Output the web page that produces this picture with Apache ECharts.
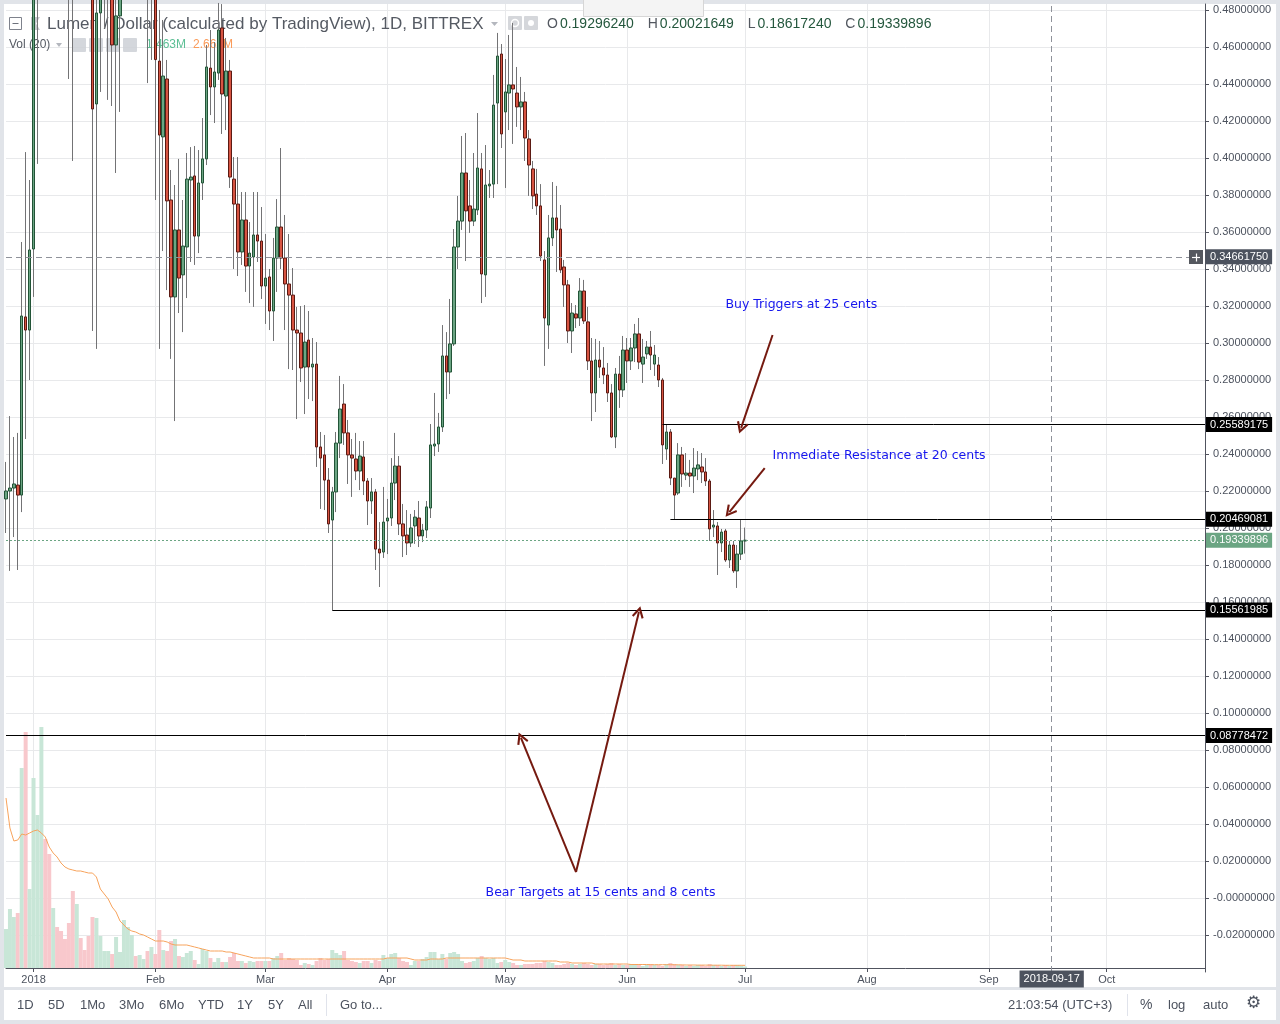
<!DOCTYPE html>
<html>
<head>
<meta charset="utf-8">
<title>Lumen / Dollar</title>
<script src="https://cdn.jsdelivr.net/npm/echarts@6/dist/echarts.min.js"></script>
<style>
html,body{margin:0;padding:0;width:1280px;height:1024px;background:#e1e4e9;overflow:hidden;}
.pane{position:absolute;background:#fff;}
#chart{position:absolute;left:0;top:0;width:1280px;height:1024px;}
</style>
</head>
<body>
<div class="pane" style="left:4px;top:4px;width:1272px;height:983px"></div>
<div class="pane" style="left:4px;top:990px;width:1272px;height:30px"></div>
<div id="chart"></div>
<script>
// ---------------- DATA ----------------
// daily candles from 2017-12-25, rows: [open, high, low, close]
const ohlc = [
[0.2157,0.2357,0.1973,0.2200],[0.2200,0.2605,0.1768,0.2216],[0.2216,0.2492,0.1951,0.2238],[0.2232,0.2514,0.1773,0.2178],
[0.2178,0.3546,0.2086,0.3146],[0.3141,0.4032,0.2481,0.3070],[0.3070,0.3881,0.2800,0.3503],[0.3508,0.5600,0.3249,0.5200],
[0.5200,0.6600,0.3968,0.6300],[0.6300,0.8500,0.6000,0.8000],[0.8000,0.9200,0.7000,0.7500],[0.7500,0.8000,0.6200,0.6800],
[0.6800,0.8000,0.6600,0.7600],[0.7600,0.7800,0.6500,0.7000],[0.7000,0.7200,0.5500,0.6200],[0.6200,0.6800,0.5600,0.6000],
[0.6000,0.6200,0.4427,0.5600],[0.5600,0.6000,0.3984,0.5200],[0.5200,0.6200,0.5000,0.5800],[0.5800,0.6400,0.5400,0.5700],
[0.5700,0.6000,0.5200,0.5500],[0.5500,0.6000,0.5000,0.5300],[0.5300,0.5500,0.3065,0.4265],[0.4292,0.4900,0.2968,0.4784],
[0.4784,0.5600,0.4357,0.5300],[0.5300,0.5800,0.4700,0.5600],[0.5600,0.6200,0.4314,0.6000],[0.6000,0.6100,0.4281,0.4611],
[0.4611,0.5000,0.3919,0.4768],[0.4768,0.5500,0.4249,0.5200],[0.5200,0.5800,0.5000,0.5600],[0.5600,0.6200,0.5300,0.6000],
[0.6000,0.6400,0.5400,0.6200],[0.6200,0.6300,0.5600,0.5900],[0.5900,0.6600,0.5700,0.6300],[0.6300,0.6600,0.5800,0.6400],
[0.6400,0.6500,0.4405,0.5200],[0.5200,0.5800,0.4530,0.5400],[0.5400,0.5600,0.3773,0.4532],[0.4524,0.4800,0.2968,0.4124],
[0.4114,0.4746,0.3497,0.4443],[0.4427,0.4530,0.3286,0.3768],[0.3773,0.3935,0.2914,0.3249],[0.3249,0.3854,0.2578,0.3611],
[0.3611,0.3995,0.3162,0.3351],[0.3368,0.3773,0.3059,0.3524],[0.3519,0.4027,0.3243,0.3886],[0.3881,0.4059,0.3438,0.3897],
[0.3903,0.4065,0.3422,0.3578],[0.3578,0.4043,0.3486,0.3865],[0.3865,0.4216,0.3773,0.3995],[0.3995,0.4611,0.3962,0.4492],
[0.4486,0.4692,0.4232,0.4384],[0.4384,0.4627,0.4189,0.4465],[0.4459,0.4838,0.4422,0.4692],[0.4703,0.4832,0.4130,0.4346],
[0.4335,0.4649,0.4151,0.4470],[0.4470,0.4530,0.3838,0.3897],[0.3886,0.4005,0.3400,0.3751],[0.3751,0.4005,0.3362,0.3492],
[0.3492,0.3816,0.3422,0.3665],[0.3665,0.3816,0.3276,0.3416],[0.3416,0.3654,0.3216,0.3486],[0.3465,0.3816,0.3195,0.3584],
[0.3584,0.3816,0.3438,0.3551],[0.3551,0.3735,0.3238,0.3308],[0.3308,0.3589,0.3103,0.3351],[0.3357,0.3400,0.3070,0.3173],
[0.3173,0.3568,0.3011,0.3459],[0.3459,0.3778,0.3276,0.3627],[0.3627,0.4054,0.3400,0.3459],[0.3459,0.3692,0.3070,0.3319],
[0.3319,0.3589,0.2859,0.3259],[0.3259,0.3405,0.2854,0.3070],[0.3070,0.3195,0.2589,0.3054],[0.3054,0.3200,0.2789,0.2865],
[0.2870,0.3205,0.2616,0.3005],[0.3016,0.3173,0.2697,0.2870],[0.2870,0.3027,0.2686,0.2886],[0.2886,0.3005,0.2330,0.2438],
[0.2438,0.2519,0.2103,0.2378],[0.2395,0.2503,0.2097,0.2259],[0.2259,0.2324,0.1973,0.2022],[0.2043,0.2222,0.15561985,0.2195],
[0.2195,0.2519,0.2086,0.2459],[0.2459,0.2822,0.2378,0.2643],[0.2670,0.2778,0.2449,0.2514],[0.2514,0.2584,0.2238,0.2395],
[0.2395,0.2481,0.2168,0.2378],[0.2373,0.2514,0.2259,0.2308],[0.2308,0.2470,0.2205,0.2389],[0.2384,0.2470,0.2178,0.2254],
[0.2254,0.2270,0.2016,0.2146],[0.2146,0.2270,0.2076,0.2195],[0.2195,0.2211,0.1773,0.1886],[0.1886,0.2032,0.1681,0.1865],
[0.1870,0.2222,0.1838,0.2032],[0.2038,0.2157,0.1859,0.2054],[0.2054,0.2378,0.2011,0.2243],[0.2243,0.2514,0.2151,0.2335],
[0.2335,0.2389,0.1962,0.2022],[0.2022,0.2130,0.1843,0.1957],[0.1962,0.2097,0.1854,0.1919],[0.1919,0.2076,0.1897,0.2000],
[0.2011,0.2097,0.1914,0.2059],[0.2054,0.2146,0.1897,0.1957],[0.1957,0.2022,0.1924,0.1989],[0.1989,0.2146,0.1946,0.2114],
[0.2108,0.2562,0.2054,0.2449],[0.2443,0.2730,0.2389,0.2454],[0.2454,0.2622,0.2411,0.2546],[0.2546,0.3097,0.2519,0.2930],
[0.2930,0.3059,0.2697,0.2843],[0.2843,0.3238,0.2724,0.2995],[0.2995,0.3616,0.2984,0.3519],[0.3519,0.3795,0.3400,0.3659],
[0.3659,0.4119,0.3611,0.3919],[0.3919,0.4135,0.3443,0.3714],[0.3741,0.3881,0.3595,0.3659],[0.3659,0.4027,0.3632,0.3724],
[0.3719,0.4243,0.3692,0.3946],[0.3941,0.4027,0.3216,0.3373],[0.3368,0.4070,0.3249,0.3854],[0.3849,0.3935,0.3784,0.3859],
[0.3859,0.4449,0.3784,0.4286],[0.4297,0.4676,0.3859,0.4551],[0.4562,0.4616,0.4054,0.4130],[0.4249,0.4535,0.3838,0.4357],
[0.4351,0.4665,0.4151,0.4395],[0.4395,0.4730,0.4076,0.4373],[0.4351,0.4492,0.4168,0.4276],[0.4276,0.4438,0.4151,0.4303],
[0.4303,0.4357,0.3984,0.4108],[0.4103,0.4151,0.3795,0.3962],[0.3941,0.3984,0.3724,0.3795],[0.3805,0.3941,0.3692,0.3741],
[0.3741,0.3859,0.3443,0.3470],[0.3449,0.3497,0.2876,0.3135],[0.3097,0.3692,0.2968,0.3568],[0.3568,0.3870,0.3524,0.3676],
[0.3676,0.3849,0.3384,0.3611],[0.3616,0.3746,0.3378,0.3395],[0.3411,0.3449,0.3195,0.3314],[0.3314,0.3341,0.3000,0.3065],
[0.3065,0.3216,0.2946,0.3162],[0.3157,0.3205,0.3081,0.3135],[0.3135,0.3351,0.3092,0.3281],[0.3281,0.3341,0.3103,0.3119],
[0.3114,0.3195,0.2854,0.2903],[0.2903,0.3027,0.2578,0.2730],[0.2730,0.3022,0.2627,0.2908],[0.2908,0.3011,0.2811,0.2870],
[0.2865,0.2978,0.2778,0.2827],[0.2827,0.2892,0.2681,0.2730],[0.2730,0.2778,0.2486,0.2492],[0.2492,0.2865,0.2432,0.2832],
[0.2832,0.2930,0.2649,0.2746],[0.2746,0.3038,0.2708,0.2962],[0.2962,0.3027,0.2784,0.2903],[0.2903,0.3027,0.2854,0.2973],
[0.2973,0.3103,0.2897,0.3049],[0.3049,0.3135,0.2859,0.2897],[0.2886,0.3022,0.2784,0.2924],[0.2941,0.3011,0.2914,0.2978],
[0.2978,0.3065,0.2854,0.2935],[0.2886,0.2989,0.2822,0.2935],[0.2881,0.2924,0.2762,0.2800],[0.2800,0.2811,0.2346,0.2449],
[0.2427,0.25589175,0.2368,0.2519],[0.2519,0.2535,0.2232,0.2270],[0.2270,0.2270,0.20469081,0.2178],[0.2189,0.2459,0.2178,0.2395],
[0.2395,0.2438,0.2222,0.2292],[0.2286,0.2405,0.2259,0.2297],[0.2297,0.2368,0.2222,0.2281],[0.2281,0.2432,0.2189,0.2324],
[0.2319,0.2416,0.2259,0.2341],[0.2330,0.2405,0.2243,0.2303],[0.2303,0.2378,0.2227,0.2254],[0.2254,0.2265,0.1930,0.1995],
[0.2005,0.2097,0.1951,0.2016],[0.2011,0.2032,0.1746,0.1919],[0.1919,0.1995,0.1870,0.1978],[0.1984,0.1995,0.1816,0.1827],
[0.1827,0.1930,0.1784,0.1908],[0.1908,0.1930,0.1757,0.1768],[0.1768,0.1908,0.1676,0.1859],[0.1859,0.2043,0.1827,0.1930],
[0.19296240,0.20021649,0.18617240,0.19339896]
];
// volume in millions
const volume = [
39,59,51,55,200,236,79,190,153,241,129,114,60,41,37,29,45,77,64,30,
18,32,51,50,32,17,17,14,31,16,48,41,33,12,13,9,17,21,14,38,
18,17,27,29,12,11,15,17,8,4,19,17,10,6,10,6,6,11,15,7,
7,5,7,6,7,
7,7,7,10,12,15,8,10,9,8,3,5,4,3,7,10,8,9,18,15,
13,17,8,7,6,5,7,7,5,8,7,13,10,14,15,10,7,6,3,7,
7,9,11,16,16,9,14,9,15,16,14,7,5,6,7,10,12,10,9,10,
5,6,8,6,5,3,3,4,4,4,5,5,7,6,5,3,
3,4,5,4,3,4,5,4,3,4,4,3,4,5,3,4,3,3,4,3,
3,2,3,4,3,3,2,4,5,4,3,3,2,3,2,3,3,2,4,3,
3,2,3,2,3,3,2,1.463
];
// 20-day volume moving average (millions)
const volumeMA = [
170,140,127,128,134,133,135,137,138,135,131,121,115,111,105,101,99,98,97,
97,96,95,95,91,79,74,69,61,56,47,43,39,37,36,34,33,31,29,27,
27,27,26,24,23,23,23,23,22,21,20,19,18,17,17,17,17,16,16,15,
14,13,12,11,10,10,
10,10,10,9,9,9,
9,9,9,9,9,9,9,9,9,9, 9,9,9,9,9,9,9,9,9,9,
9,9,9,9,9,9,10,10,10,10, 10,10,9,8,8,8,8,9,9,9,
9,10,10,10,10,10,10,10,10,10, 10,10,10,10,10,10,10,9,8,8,
8,7,7,7,7,7,7,7,7,7, 6,6,6,5,5,5,5,5,5,4,
4,4,4,4,4,4,4,4,3.5,3.5, 3.5,3.5,3.5,3.3,3.3,3.3,3.3,3.3,3.3,3.2,
3.2,3.1,3.0,3.0,3.0,2.9,2.9,2.9,2.8,2.8, 2.8,2.8,2.7,2.7,2.7,2.7,2.7,2.665
];
// horizontal levels drawn on the chart, and the day index where each begins
const levelValues = [0.25589175, 0.20469081, 0.15561985, 0.08778472];
const levelStartDay = [167, 169, 83, 0];
const crosshairPrice = 0.34661750;
const crosshairDate = '2018-09-17';
// annotations: text, day index, price
const noteTexts = ['Buy Triggers at 25 cents', 'Immediate Resistance at 20 cents', 'Bear Targets at 15 cents and 8 cents'];
const noteDays = [182.9, 195.1, 121.85];
const notePrices = [0.3205, 0.2389, 0.0027];
// arrows: [fromDay, fromPrice, toDay, toPrice]
const arrows = [
  [194.9, 0.3043, 186.7, 0.2541],
  [193.1, 0.2324, 184.4, 0.2086],
  [144.7, 0.01405, 131.3, 0.0865],
  [144.7, 0.01405, 160.8, 0.1546]
];
// x-axis tick labels by month
const monthNames = {'01':'2018','02':'Feb','03':'Mar','04':'Apr','05':'May','06':'Jun','07':'Jul','08':'Aug','09':'Sep','10':'Oct','11':'Nov','12':'Dec'};
const dayCount = 306;
const categories = [];
for (let i = 0; i < dayCount; i++) {
  categories.push(new Date(Date.UTC(2017, 11, 25 + i)).toISOString().slice(0, 10));
}

// ---------------- STYLE ----------------
const FONT = '"Liberation Sans", Arial, sans-serif';
const UP = '#6ba583', DN = '#d75442', UPB = '#225437', DNB = '#5b1a13', WICK = '#737375';
const VOL_UP = '#c8e6d7', VOL_DN = '#f8c8cc';
const AXIS = '#50535e', TXT = '#4c525e', GRIDC = '#e8e9eb';
const ARROW = '#751a10';
const CHEVRON = 'path://M6,0 L12,10.5 L10.2,11.6 L6,4.2 L1.8,11.6 L0,10.5 Z';

const isMonthStart = (i, v) => String(v).slice(8) === '01';
const candleData = ohlc.map(r => [r[0], r[3], r[2], r[1]]);
const bodyData = ohlc.map(r => [r[0], r[3], Math.min(r[0], r[3]), Math.max(r[0], r[3])]);
const volData = volume.map((v, i) => ({value: v, itemStyle: {color: ohlc[i][3] >= ohlc[i][0] ? VOL_UP : VOL_DN}}));
const last = ohlc[ohlc.length - 1];

function boxLabel(bg, text) {
  return {show: true, position: 'end', distance: 1, formatter: text, backgroundColor: bg, color: '#fff',
    fontSize: 11, fontFamily: FONT, padding: [2, 4, 1, 4], lineHeight: 12};
}
function hLine(startDay, v, lineStyle, label) {
  return [
    {coord: [startDay, v], lineStyle: lineStyle, label: label},
    {coord: [dayCount - 1, v]}
  ];
}

const markLines = [];
levelValues.forEach((v, i) => {
  markLines.push(hLine(levelStartDay[i], v, {color: '#000', width: 1, type: 'solid'}, boxLabel('#000', v.toFixed(8))));
});
markLines.push(hLine(0, crosshairPrice, {color: '#8f929a', width: 1, type: [6, 4]}, boxLabel('#4c525e', crosshairPrice.toFixed(8))));
markLines.push(hLine(0, last[3], {color: UP, width: 1, type: [2, 2]}, boxLabel(UP, last[3].toFixed(8))));
markLines.push({xAxis: crosshairDate, lineStyle: {color: '#8f929a', width: 1, type: [6, 4]}, label: {show: false}});
arrows.forEach(a => {
  markLines.push([
    {coord: [a[0], a[1]], symbol: 'none', lineStyle: {color: ARROW, width: 2, type: 'solid'}, label: {show: false}},
    {coord: [a[2], a[3]], symbol: CHEVRON, symbolSize: [12, 12]}
  ]);
});

const option = {
  animation: false,
  backgroundColor: 'transparent',
  grid: [
    {left: 6, right: 75, top: 4, bottom: 52},
    {left: 6, right: 75, top: 668, bottom: 56}
  ],
  xAxis: [
    {type: 'category', gridIndex: 0, data: categories, boundaryGap: false,
      axisLine: {show: false}, axisTick: {show: false}, axisLabel: {show: false},
      splitLine: {show: true, interval: isMonthStart, lineStyle: {color: GRIDC, width: 1}}},
    {type: 'category', gridIndex: 1, data: categories, boundaryGap: false,
      axisLine: {show: true, lineStyle: {color: AXIS, width: 1}},
      axisTick: {show: true, interval: isMonthStart, length: 4, lineStyle: {color: AXIS}},
      axisLabel: {show: true, interval: isMonthStart, formatter: v => monthNames[v.slice(5, 7)],
        color: TXT, fontSize: 11, fontFamily: FONT, margin: 6},
      splitLine: {show: false}}
  ],
  yAxis: [
    {type: 'value', gridIndex: 0, position: 'right', min: -0.04, max: 0.48324, interval: 0.02,
      axisLine: {show: true, lineStyle: {color: AXIS, width: 1}},
      axisTick: {show: true, length: 4, lineStyle: {color: AXIS}},
      axisLabel: {color: TXT, fontSize: 11, fontFamily: FONT, margin: 8, showMinLabel: false, showMaxLabel: false,
        formatter: v => (Math.abs(v) < 1e-10 ? '-0.00000000' : v.toFixed(8))},
      splitLine: {show: true, showMinLine: false, showMaxLine: false, lineStyle: {color: GRIDC, width: 1}}},
    {type: 'value', gridIndex: 1, min: 0, max: 300, show: false}
  ],
  series: [
    {name: 'Volume', type: 'bar', xAxisIndex: 1, yAxisIndex: 1, data: volData, barWidth: 4, silent: true, z: 1},
    {name: 'Volume MA', type: 'line', xAxisIndex: 1, yAxisIndex: 1, data: volumeMA, symbol: 'none', showSymbol: false,
      lineStyle: {color: '#f7a35c', width: 1}, silent: true, z: 1},
    {name: 'Wicks', type: 'candlestick', xAxisIndex: 0, yAxisIndex: 0, data: candleData, barWidth: 0.4, barMinWidth: 0.4,
      itemStyle: {color: WICK, color0: WICK, borderColor: WICK, borderColor0: WICK, borderWidth: 1},
      clip: true, silent: true, z: 2},
    {name: 'Lumen / Dollar', type: 'candlestick', xAxisIndex: 0, yAxisIndex: 0, data: bodyData, barWidth: 3,
      itemStyle: {color: UP, color0: DN, borderColor: UPB, borderColor0: DNB, borderWidth: 1},
      clip: true, silent: true, z: 3,
      markLine: {silent: true, animation: false, symbol: ['none', 'none'], label: {show: false},
        emphasis: {disabled: true}, data: markLines},
      markPoint: {silent: true, animation: false, symbol: 'circle', symbolSize: 0, itemStyle: {color: 'transparent'},
        label: {show: true, position: 'right', distance: 0, color: '#1616ee', fontSize: 12.5,
          fontFamily: '"DejaVu Sans", Verdana, sans-serif'},
        emphasis: {disabled: true},
        data: noteTexts.map((t, i) => ({coord: [noteDays[i], notePrices[i]], value: 0, label: {formatter: t}}))}
    }
  ]
};

const chart = echarts.init(document.getElementById('chart'), null, {renderer: 'canvas', width: 1280, height: 1024});
chart.setOption(option);

// ---------------- fixed decorations ----------------
function txt(x, y, s, size, color, extra) {
  return {type: 'text', z: 1, style: Object.assign({x: x, y: y, text: s, font: size + 'px ' + FONT, fill: color,
    align: 'left', verticalAlign: 'middle', textAlign: 'left', textVerticalAlign: 'middle'}, extra || {})};
}
const xCross = chart.convertToPixel({xAxisIndex: 1}, crosshairDate);
const yCross = chart.convertToPixel({yAxisIndex: 0}, crosshairPrice);
const ohlcRich = ['O', 'H', 'L', 'C'].map((k, i) => '{k|' + k + '}{v|' + last[i].toFixed(8) + '}').join('{g| }');

const graphics = [
  // header
  {type: 'rect', z: 1, shape: {x: 9.5, y: 17.5, width: 12, height: 12}, style: {fill: '#fff', stroke: '#7e828c', lineWidth: 1}},
  {type: 'line', z: 1, shape: {x1: 12.5, y1: 23.5, x2: 18.5, y2: 23.5}, style: {stroke: '#6e727c', lineWidth: 1}},
  {type: 'polygon', z: 1, shape: {points: [[31, 17], [40, 17], [36, 23.5], [40, 30], [31, 30]]}, style: {fill: '#c8cbd1'}},
  txt(47, 24.5, 'Lumen / Dollar (calculated by TradingView), 1D, BITTREX', 17, '#555a63'),
  {type: 'polygon', z: 1, shape: {points: [[491, 22], [498, 22], [494.5, 26]]}, style: {fill: '#b4b7be'}},
  {type: 'rect', z: 1, shape: {x: 508, y: 16, width: 14, height: 14, r: 1}, style: {fill: '#d5d7db'}},
  {type: 'circle', z: 1, shape: {cx: 515, cy: 23, r: 3.5}, style: {fill: 'none', stroke: '#fff', lineWidth: 1.5}},
  {type: 'rect', z: 1, shape: {x: 524, y: 16, width: 14, height: 14, r: 1}, style: {fill: '#d5d7db'}},
  {type: 'circle', z: 1, shape: {cx: 531, cy: 23, r: 3}, style: {fill: '#fff'}},
  {type: 'text', z: 1, style: {x: 547, y: 24, text: ohlcRich, verticalAlign: 'middle', textVerticalAlign: 'middle',
    rich: {k: {fill: '#535860', font: '14px ' + FONT, padding: [0, 2, 0, 0]},
           v: {fill: '#24573d', font: '14px ' + FONT},
           g: {font: '14px ' + FONT, padding: [0, 5, 0, 5]}}}},
  txt(9, 45, 'Vol (20)', 12, '#555a63'),
  {type: 'polygon', z: 1, shape: {points: [[56, 43], [62, 43], [59, 47]]}, style: {fill: '#b4b7be'}},
  {type: 'rect', z: 1, shape: {x: 72, y: 38, width: 14, height: 14, r: 1}, style: {fill: 'rgba(205,208,214,0.85)'}},
  {type: 'rect', z: 1, shape: {x: 89, y: 38, width: 14, height: 14, r: 1}, style: {fill: 'rgba(205,208,214,0.85)'}},
  {type: 'rect', z: 1, shape: {x: 106, y: 38, width: 14, height: 14, r: 1}, style: {fill: 'rgba(205,208,214,0.85)'}},
  {type: 'rect', z: 1, shape: {x: 123, y: 38, width: 14, height: 14, r: 1}, style: {fill: 'rgba(205,208,214,0.85)'}},
  txt(146, 45, volume[volume.length - 1].toFixed(3) + 'M', 12, '#5cbf95'),
  txt(193, 45, volumeMA[volumeMA.length - 1].toFixed(3) + 'M', 12, '#fa9b5a'),
  // exit full screen tooltip
  {type: 'rect', z: 5, shape: {x: 583.5, y: -1.5, width: 120, height: 18}, style: {fill: '#f4f4f4', stroke: '#d6d6d6', lineWidth: 1}},
  txt(643, 8.5, 'Exit Full Screen (ESC)', 11, '#a3a3a3', {align: 'center', textAlign: 'center'}),
  // crosshair decorations
  {type: 'rect', z: 5, shape: {x: 1189, y: Math.round(yCross) - 7, width: 14, height: 14}, style: {fill: '#55585f'}},
  {type: 'line', z: 6, shape: {x1: 1192, y1: Math.round(yCross) + 0.5, x2: 1200, y2: Math.round(yCross) + 0.5}, style: {stroke: '#fff', lineWidth: 1.2}},
  {type: 'line', z: 6, shape: {x1: 1196.5, y1: Math.round(yCross) - 3.5, x2: 1196.5, y2: Math.round(yCross) + 4.5}, style: {stroke: '#fff', lineWidth: 1.2}},
  {type: 'text', z: 5, style: {x: xCross, y: 979, text: crosshairDate, font: '11px ' + FONT, fill: '#fff',
    align: 'center', textAlign: 'center', verticalAlign: 'middle', textVerticalAlign: 'middle',
    backgroundColor: '#4c525e', padding: [3, 4, 3, 4]}},
  // bottom toolbar
  txt(17, 1005, '1D', 13, TXT), txt(48, 1005, '5D', 13, TXT), txt(80, 1005, '1Mo', 13, TXT),
  txt(119, 1005, '3Mo', 13, TXT), txt(159, 1005, '6Mo', 13, TXT), txt(198, 1005, 'YTD', 13, TXT),
  txt(237, 1005, '1Y', 13, TXT), txt(268, 1005, '5Y', 13, TXT), txt(298, 1005, 'All', 13, TXT),
  {type: 'line', z: 1, shape: {x1: 326.5, y1: 994, x2: 326.5, y2: 1016}, style: {stroke: '#e0e3eb', lineWidth: 1}},
  txt(340, 1005, 'Go to...', 13, TXT),
  txt(1008, 1005, '21:03:54 (UTC+3)', 13, TXT),
  {type: 'line', z: 1, shape: {x1: 1127.5, y1: 994, x2: 1127.5, y2: 1016}, style: {stroke: '#e0e3eb', lineWidth: 1}},
  txt(1140, 1005, '%', 14, TXT), txt(1168, 1005, 'log', 13, TXT), txt(1203, 1005, 'auto', 13, TXT),
  txt(1246, 1004, '\u2699', 17, TXT, {font: '17px "DejaVu Sans", sans-serif'})
];
chart.setOption({graphic: {elements: graphics}});
</script>
</body>
</html>
